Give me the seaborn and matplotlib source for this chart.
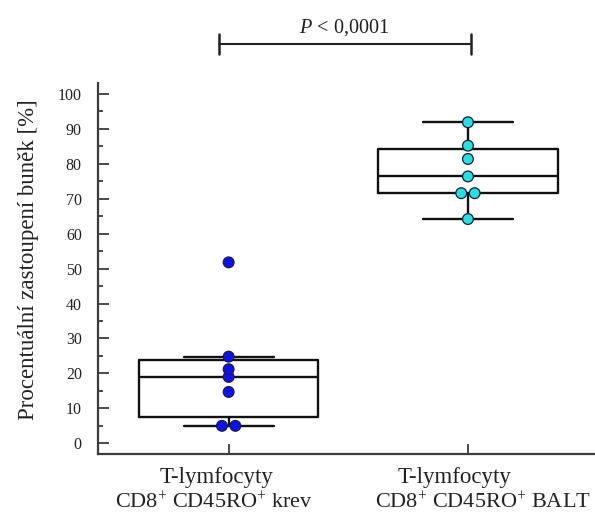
import numpy as np
import pandas as pd
import matplotlib
matplotlib.use("Agg")
import matplotlib.pyplot as plt
import matplotlib.transforms as mtransforms
import seaborn as sns

# Percentage of CD8+ CD45RO+ T cells, blood vs. BALT
groups = ["krev", "BALT"]
krev = [51.8, 24.8, 21.2, 19.0, 14.7, 5.0, 5.0]
balt = [91.9, 85.2, 81.4, 76.4, 71.6, 71.6, 64.2]
label_line1 = ["T-lymfocyty", "T-lymfocyty"]
label_line2 = [r"CD8$^{+}$ CD45RO$^{+}$ krev", r"CD8$^{+}$ CD45RO$^{+}$ BALT"]
p_text = r"$P$ < 0,0001"
y_ticks = list(range(0, 101, 10))
colors = ["#1010EE", "#26E0E0"]

# Identical values are spread side by side around the group centre
tie_step = 0.056
rows = []
for gi, (name, vals) in enumerate(zip(groups, [krev, balt])):
    vals = np.asarray(vals, dtype=float)
    for v in np.unique(vals):
        k = int(np.sum(vals == v))
        for j in range(k):
            rows.append({"skupina": name,
                         "pozice": gi + (j - (k - 1) / 2) * tie_step,
                         "procento": v})
df = pd.DataFrame(rows)

sns.set_theme(style="ticks")
plt.rcParams["font.family"] = ["Liberation Serif", "DejaVu Serif"]
plt.rcParams["mathtext.fontset"] = "custom"
plt.rcParams["mathtext.rm"] = "Liberation Serif"
plt.rcParams["mathtext.it"] = "Liberation Serif:italic"
plt.rcParams["ytick.direction"] = "in"
plt.rcParams["xtick.direction"] = "in"

fig = plt.figure(figsize=(5.95, 5.17), dpi=100)
ax = fig.add_axes([0.1655, 0.1213, 0.8345, 0.7182])

spine_col = "#3c3c3c"
text_col = "#222222"


def box_stats(values, label):
    """Box statistics with Hazen quartiles and Tukey whiskers."""
    v = np.sort(np.asarray(values, dtype=float))
    q1, med, q3 = np.percentile(v, [25, 50, 75], method="hazen")
    iqr = q3 - q1
    lo = v[v >= q1 - 1.5 * iqr].min()
    hi = v[v <= q3 + 1.5 * iqr].max()
    return dict(label=label, med=med, q1=q1, q3=q3, whislo=lo, whishi=hi,
                fliers=np.array([]))


stats = [box_stats(krev, groups[0]), box_stats(balt, groups[1])]
line_kw = dict(color="#111111", linewidth=1.7)
ax.bxp(stats, positions=[0, 1], widths=0.75, capwidths=0.375,
       showfliers=False, patch_artist=False,
       boxprops=line_kw, whiskerprops=line_kw, capprops=line_kw,
       medianprops=line_kw, zorder=2)

sns.scatterplot(data=df, x="pozice", y="procento", hue="skupina",
                hue_order=groups, palette=colors, s=60,
                edgecolor="#1c1c3c", linewidth=0.9, legend=False, ax=ax,
                zorder=3)

ax.set_xlim(-0.544, 1.531)
ax.set_ylim(-3.15, 103.15)
ax.set_yticks(y_ticks)
ax.set_yticks(np.arange(5, 100, 10), minor=True)
ax.set_xticks([0, 1])
ax.set_xticklabels(["", ""])
ax.yaxis.set_tick_params(which="major", direction="in", length=8, width=1.3,
                         color=spine_col, labelsize=11.5, pad=12,
                         labelcolor=text_col, left=True)
ax.yaxis.set_tick_params(which="minor", direction="in", length=3.8, width=1.3,
                         color=spine_col, left=True)
ax.xaxis.set_tick_params(which="major", direction="in", length=7, width=1.3,
                         color=spine_col)

for side in ["top", "right"]:
    ax.spines[side].set_visible(False)
for side in ["left", "bottom"]:
    ax.spines[side].set_color(spine_col)
    ax.spines[side].set_linewidth(1.6)

ax.set_xlabel("")
ax.set_ylabel("Procentuální zastoupení buněk [%]", fontsize=16.5, color=text_col)
ax.yaxis.set_label_coords(-0.12, 0.523)

# Two-line category labels below the axis
trans = mtransforms.blended_transform_factory(ax.transData, fig.transFigure)
line1_x = [-0.05, 0.946]
line2_x = [-0.063, 1.062]
for i in range(len(groups)):
    ax.text(line1_x[i], 0.0658, label_line1[i], transform=trans, ha="center",
            va="baseline", fontsize=16.5, color=text_col)
    ax.text(line2_x[i], 0.0174, label_line2[i], transform=trans, ha="center",
            va="baseline", fontsize=16, color=text_col)

# Significance bracket between the two groups
x0, x1, yb, cap = -0.042, 1.011, 114.3, 2.9
ax.plot([x0, x1], [yb, yb], color=text_col, lw=1.5, clip_on=False)
ax.plot([x0, x0], [yb - cap, yb + cap], color=text_col, lw=1.8, clip_on=False)
ax.plot([x1, x1], [yb - cap, yb + cap], color=text_col, lw=1.8, clip_on=False)
ax.text(0.485, yb + 3.2, p_text, ha="center", va="baseline", fontsize=14.6,
        color=text_col, clip_on=False)

fig.savefig("out.png", dpi=100, facecolor="white")
